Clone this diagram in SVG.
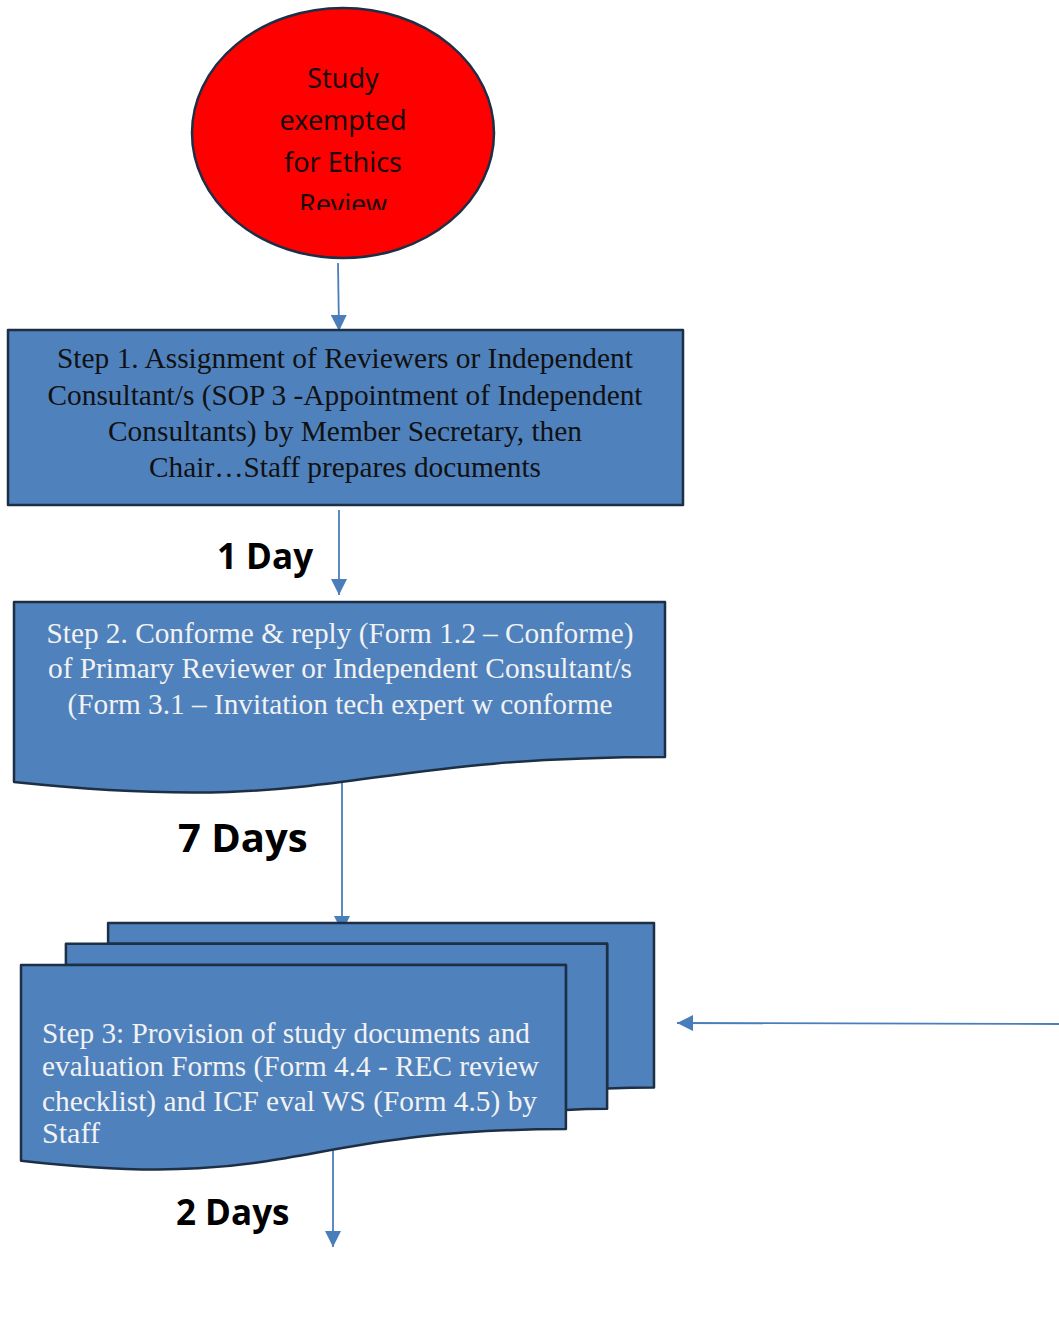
<svg xmlns="http://www.w3.org/2000/svg" width="1059" height="1336" viewBox="0 0 1059 1336">
<defs>
<style>
.shape{fill:#4f81bd;stroke:#1c2f44;stroke-width:2.5;stroke-linejoin:round}
.conn{stroke:#4a7ebb;stroke-width:1.8;fill:none}
.serif{font-family:"Liberation Serif","Times New Roman",serif;font-size:30px}
.dark{fill:#111}
.light{fill:#f2f2f2}
.lbl{font-family:"Open Sans","Noto Sans",sans-serif;font-weight:bold;fill:#000}
.circ{font-family:"Noto Sans","Open Sans",sans-serif;font-size:27px;fill:#1a0a0a;text-anchor:middle}
</style>
<marker id="ah" viewBox="0 0 10 10" refX="10" refY="5" markerWidth="9" markerHeight="9" markerUnits="strokeWidth" orient="auto">
<path d="M0,0 L10,5 L0,10 Z" fill="#4a7ebb"/>
</marker>
<clipPath id="cc"><rect x="150" y="0" width="400" height="210"/></clipPath>
</defs>
<rect width="1059" height="1336" fill="#fff"/>
<g id="connectors">
<line class="conn" x1="338" y1="263" x2="339" y2="331" marker-end="url(#ah)"/>
<line class="conn" x1="339" y1="510" x2="339" y2="595" marker-end="url(#ah)"/>
<line class="conn" x1="342" y1="780" x2="342" y2="932" marker-end="url(#ah)"/>
<line class="conn" x1="1059" y1="1024" x2="677" y2="1023" marker-end="url(#ah)"/>
<line class="conn" x1="333" y1="1148" x2="333" y2="1247" marker-end="url(#ah)"/>
</g>
<g id="start">
<ellipse cx="343" cy="133" rx="151" ry="125" fill="#ff0000" stroke="#1c2f44" stroke-width="2.5"/>
<g clip-path="url(#cc)">
<text class="circ" x="343" y="88">Study</text>
<text class="circ" x="343" y="130">exempted</text>
<text class="circ" x="343" y="172">for Ethics</text>
<text class="circ" x="343" y="214">Review</text>
</g>
</g>
<g id="step1">
<rect class="shape" x="8" y="330" width="675" height="175"/>
<g class="serif dark" text-anchor="middle">
<text x="345" y="368" textLength="576" lengthAdjust="spacingAndGlyphs">Step 1. Assignment of Reviewers or Independent</text>
<text x="345" y="405" textLength="595" lengthAdjust="spacingAndGlyphs">Consultant/s (SOP 3 -Appointment of Independent</text>
<text x="345" y="441" textLength="474" lengthAdjust="spacingAndGlyphs">Consultants) by Member Secretary, then</text>
<text x="345" y="477" textLength="392" lengthAdjust="spacingAndGlyphs">Chair…Staff prepares documents</text>
</g>
</g>
<g id="label1"><text class="lbl" x="217" y="569" font-size="35">1 Day</text></g>
<g id="step2">
<path class="shape" d="M14,602 H665 V757 C339.5,757 339.5,816 14,782 Z"/>
<g class="serif light" text-anchor="middle">
<text x="340" y="643" textLength="587" lengthAdjust="spacingAndGlyphs">Step 2. Conforme &amp; reply (Form 1.2 – Conforme)</text>
<text x="340" y="678" textLength="584" lengthAdjust="spacingAndGlyphs">of Primary Reviewer or Independent Consultant/s</text>
<text x="340" y="714" textLength="545" lengthAdjust="spacingAndGlyphs">(Form 3.1 – Invitation tech expert w conforme</text>
</g>
</g>
<g id="label2"><text class="lbl" x="178" y="852" font-size="40">7 Days</text></g>
<g id="step3">
<path class="shape" d="M108.1,943.75 V923 H654 V1087.6 C630.6,1087.6 607.1,1088.4 607.1,1088.4 V943.75 Z"/>
<path class="shape" d="M65.9,965 V943.75 H607.1 V1108.85 C586.5,1108.85 565.9,1110 565.9,1110 V965 Z"/>
<path class="shape" d="M21,1160.65 C293.5,1192.2 293.5,1129.1 565.9,1129.1 V965 H21 Z"/>
<g class="serif light">
<text x="42" y="1043" textLength="488" lengthAdjust="spacingAndGlyphs">Step 3: Provision of study documents and</text>
<text x="42" y="1076" textLength="497" lengthAdjust="spacingAndGlyphs">evaluation Forms (Form 4.4 - REC review</text>
<text x="42" y="1111" textLength="495" lengthAdjust="spacingAndGlyphs">checklist) and ICF eval WS (Form 4.5) by</text>
<text x="42" y="1143" textLength="58" lengthAdjust="spacingAndGlyphs">Staff</text>
</g>
</g>
<g id="label3"><text class="lbl" x="176" y="1225" font-size="35">2 Days</text></g>
</svg>
